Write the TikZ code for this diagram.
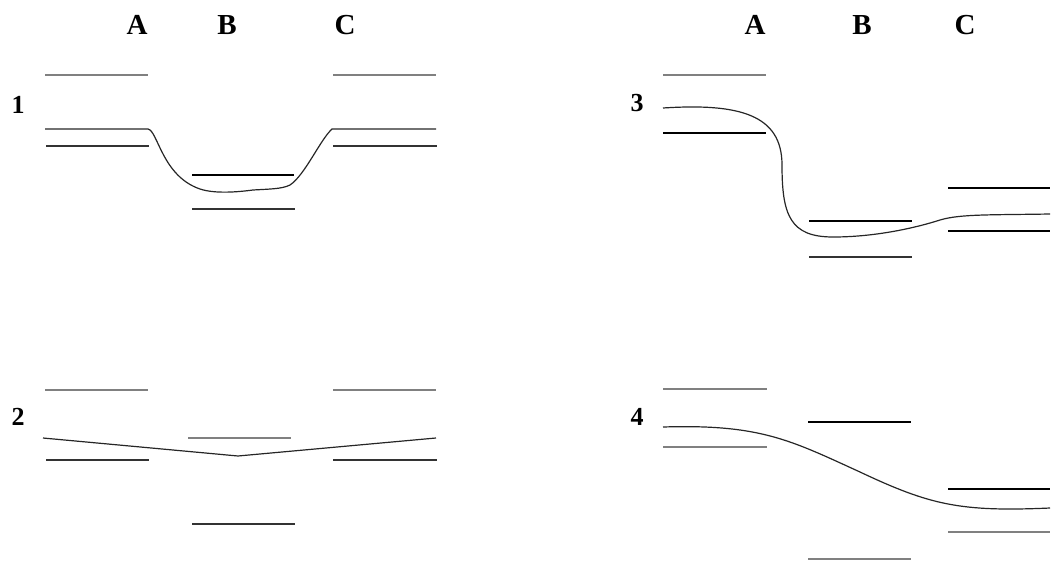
\documentclass[tikz,border=0pt]{standalone}
\usepackage{fontspec}
\setmainfont{Liberation Serif}
\begin{document}
\begin{tikzpicture}[x=1pt,y=-1pt,
  lvlgrey/.style={draw=black!50,line width=1.8pt},
  lvldark/.style={draw=black!80,line width=1.6pt},
  lvlblack/.style={draw=black,line width=1.6pt},
  path/.style={draw=black!85,line width=1.2pt},
  col/.style={font=\fontsize{29}{30}\selectfont\bfseries,anchor=center},
  num/.style={font=\fontsize{26}{27}\selectfont\bfseries,anchor=center}]
\useasboundingbox (0,0) rectangle (1051,563);
% column labels
\node[col] (lA1) at (137,25) {A};
\node[col] (lB1) at (227,25) {B};
\node[col] (lC1) at (345,25) {C};
\node[col] (lA2) at (755,25) {A};
\node[col] (lB2) at (862,25) {B};
\node[col] (lC2) at (965,25) {C};
% panel numbers
\node[num] (n1) at (18,105) {1};
\node[num] (n2) at (18,417) {2};
\node[num] (n3) at (637,103) {3};
\node[num] (n4) at (637,417) {4};
% ---- panel 1
\draw[lvlgrey] (45,75) -- (148,75);
\draw[lvlgrey] (333,75) -- (436,75);
\draw[lvldark] (46,146) -- (149,146);
\draw[lvldark] (333,146) -- (437,146);
\draw[lvlblack] (192,175) -- (294,175);
\draw[lvldark] (192,209) -- (295,209);
\draw[path] (45,129) -- (148,129)
  .. controls (158,131) and (162,176) .. (200,189)
  .. controls (215,194) and (238,192) .. (253,190)
  .. controls (270,189) and (282,189) .. (290,185)
  .. controls (305,175) and (320,140) .. (332,129) -- (436,129);
% ---- panel 2
\draw[lvlgrey] (45,390) -- (148,390);
\draw[lvlgrey] (333,390) -- (436,390);
\draw[lvlgrey] (188,438) -- (291,438);
\draw[lvldark] (46,460) -- (149,460);
\draw[lvldark] (333,460) -- (437,460);
\draw[lvldark] (192,524) -- (295,524);
\draw[path] (43,438) -- (238,456) -- (436,438);
% ---- panel 3
\draw[lvlgrey] (663,75) -- (766,75);
\draw[lvlblack] (663,133) -- (766,133);
\draw[lvlblack] (809,221) -- (912,221);
\draw[lvldark] (809,257) -- (912,257);
\draw[lvlblack] (948,188) -- (1050,188);
\draw[lvlblack] (948,231) -- (1050,231);
\draw[path] (663,108)
  .. controls (740,103) and (782,115) .. (782,165)
  .. controls (782,215) and (790,237) .. (833,237)
  .. controls (875,237) and (915,228) .. (940,220)
  .. controls (960,214) and (990,215) .. (1050,214);
% ---- panel 4
\draw[lvlgrey] (663,389) -- (767,389);
\draw[lvlgrey] (663,447) -- (767,447);
\draw[lvlblack] (808,422) -- (911,422);
\draw[lvlgrey] (808,559) -- (911,559);
\draw[lvlblack] (948,489) -- (1050,489);
\draw[lvlgrey] (948,532) -- (1050,532);
\draw[path] (663,427)
  .. controls (760,424) and (790,440) .. (860,472)
  .. controls (930,505) and (960,512) .. (1050,508);
\end{tikzpicture}
\end{document}
